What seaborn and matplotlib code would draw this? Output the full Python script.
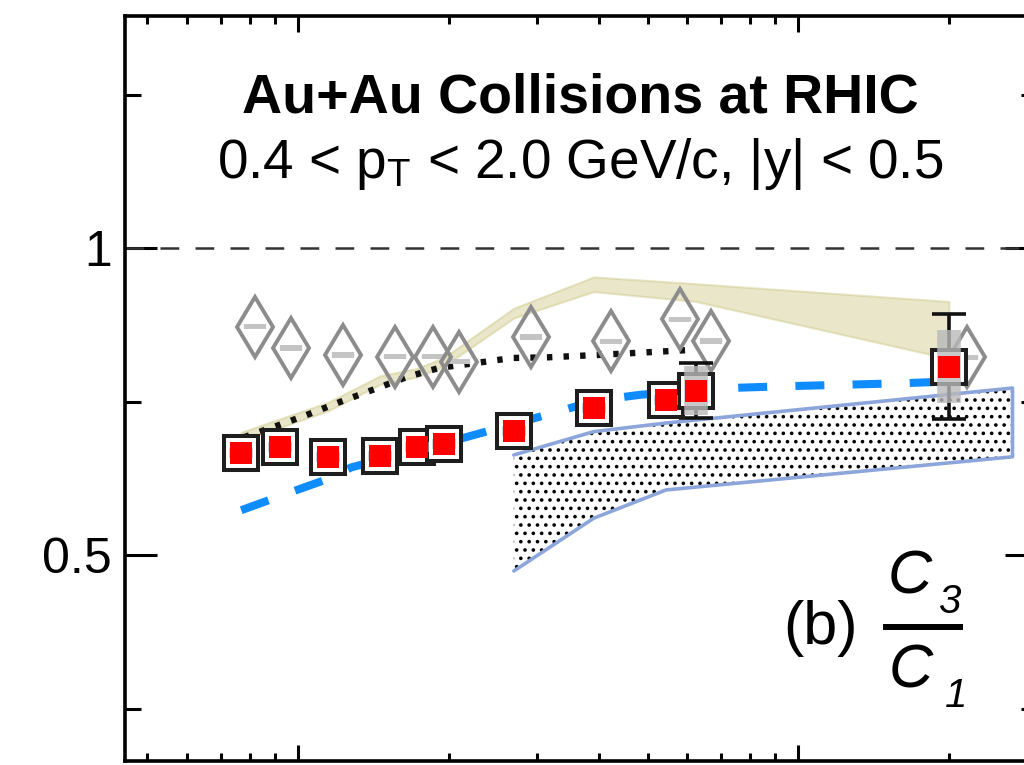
import numpy as np
import matplotlib
matplotlib.use('Agg')
import matplotlib.pyplot as plt
from matplotlib.ticker import MultipleLocator, LogLocator, NullFormatter
import seaborn as sns

# Data
# STAR C3/C1 (red squares)
star_energy = [7.7, 9.2, 11.5, 14.6, 17.3, 19.6, 27, 39, 54.4, 62.4, 200]
star_ratio = [0.666, 0.676, 0.660, 0.661, 0.676, 0.681, 0.702, 0.739, 0.752, 0.768, 0.807]
star_stat = [0, 0, 0, 0, 0, 0, 0, 0, 0, 0.044, 0.085]
star_sys = [0.008, 0.008, 0.008, 0.008, 0.008, 0.008, 0.008, 0.008, 0.008, 0.040, 0.060]

# gray open diamonds
ref_energy = [8.2, 9.7, 12.3, 15.6, 18.6, 21.0, 29.2, 42.3, 57.9, 67.0, 217.5]
ref_ratio = [0.872, 0.837, 0.826, 0.823, 0.823, 0.815, 0.855, 0.848, 0.884, 0.849, 0.822]
ref_sys = [0.0045] * 11

# olive band
band_energy = [7.7, 11.5, 14.6, 17.3, 19.6, 27, 39, 62.4, 200]
band_low = [0.686, 0.735, 0.778, 0.790, 0.808, 0.886, 0.929, 0.913, 0.820]
band_high = [0.700, 0.749, 0.792, 0.804, 0.822, 0.902, 0.953, 0.942, 0.913]

# dotted (hatched) band
hatch_energy = [27, 39, 54.4, 268]
hatch_low = [0.474, 0.560, 0.606, 0.660]
hatch_high = [0.663, 0.701, 0.715, 0.772]

# black dotted curve
dot_energy = [7.8, 8.9, 10.4, 12.1, 14.1, 16.5, 19.2, 22.8, 26.8, 31.5, 40, 60.7]
dot_ratio = [0.692, 0.708, 0.728, 0.749, 0.769, 0.790, 0.805, 0.813, 0.821, 0.822, 0.826, 0.834]

# blue dashed curve
dash_energy = [7.7, 9.95, 11.3, 12.8, 18.4, 24.5, 31.9, 39.6, 48.3, 72.1, 95, 164, 204]
dash_ratio = [0.573, 0.606, 0.622, 0.643, 0.676, 0.704, 0.730, 0.752, 0.761, 0.772, 0.775, 0.780, 0.783]

sns.set_theme(style='ticks')
plt.rcParams['font.family'] = ['Liberation Sans', 'DejaVu Sans']
plt.rcParams['mathtext.fontset'] = 'custom'
plt.rcParams['mathtext.rm'] = 'Liberation Sans'
plt.rcParams['mathtext.it'] = 'Liberation Sans:italic'
plt.rcParams['mathtext.bf'] = 'Liberation Sans:bold'
plt.rcParams['text.color'] = 'black'
plt.rcParams['xtick.color'] = 'black'
plt.rcParams['ytick.color'] = 'black'
plt.rcParams['hatch.linewidth'] = 1.4

fig = plt.figure(figsize=(10.24, 7.65), dpi=100)
ax = fig.add_axes([0.1216, 0.0052, 0.8911, 0.9739])
ax.set_xscale('log')
ax.set_xlim(4.5, 300)
ax.set_ylim(0.1645, 1.378)

# reference line
ax.axhline(1.0, color='#333333', lw=1.8, dashes=(7.5, 6.5), zorder=1)

# olive band
ax.fill_between(band_energy, band_low, band_high, color='#c9c27a', alpha=0.4,
                edgecolor='#c9c27a', lw=1.5, zorder=2)

# hatched band + blue outline (no left edge)
ax.fill_between(hatch_energy, hatch_low, hatch_high, facecolor='none',
                edgecolor='black', hatch='..', lw=0, zorder=2)
outline_x = hatch_energy + hatch_energy[::-1]
outline_y = hatch_high + hatch_low[::-1]
ax.plot(outline_x, outline_y, color='#8ca6dc', lw=2.6, zorder=3)

# model curves
sns.lineplot(x=dash_energy, y=dash_ratio, ax=ax, color='#0f8cff', lw=5.8,
             sort=False, zorder=4)
ax.lines[-1].set_dashes((3.6, 3.5))
ax.lines[-1].set_dash_capstyle('butt')
sns.lineplot(x=dot_energy, y=dot_ratio, ax=ax, color='#111111', lw=4.6,
             sort=False, zorder=4)
ax.lines[-1].set_dashes((0.85, 1.75))
ax.lines[-1].set_dash_capstyle('butt')

# gray diamonds with small sys bars
ax.errorbar(ref_energy, ref_ratio, yerr=ref_sys, fmt='none', ecolor='#c4c4c4',
            elinewidth=16, zorder=5)
ax.plot(ref_energy, ref_ratio, ls='none', marker='d', ms=31, mfc='none',
        mec='#8c8c8c', mew=2.8, zorder=5)

# stat error bars
err_idx = [i for i, e in enumerate(star_stat) if e > 0]
ax.errorbar([star_energy[i] for i in err_idx], [star_ratio[i] for i in err_idx],
            yerr=[star_stat[i] for i in err_idx], fmt='none', ecolor='#111111',
            elinewidth=2.6, capsize=12, capthick=2.6, zorder=6)

# STAR squares
ax.plot(star_energy, star_ratio, ls='none', marker='s', ms=23.8, mfc='white',
        mec='#1e1e1e', mew=2.9, zorder=7)
ax.errorbar(star_energy, star_ratio, yerr=star_sys, fmt='none', ecolor='#b9b9b9',
            elinewidth=17, alpha=0.8, zorder=8)
ax.plot(star_energy, star_ratio, ls='none', marker='s', ms=15.8, mfc='#ff0000',
        mec='#ff0000', mew=0, zorder=9)

# axes styling
for side in ['left', 'right', 'top', 'bottom']:
    ax.spines[side].set_linewidth(2.6)
    ax.spines[side].set_color('black')
    ax.spines[side].set_visible(True)
ax.xaxis.set_major_locator(LogLocator(base=10, numticks=10))
ax.xaxis.set_minor_locator(LogLocator(base=10, subs=np.arange(2, 10), numticks=20))
ax.xaxis.set_minor_formatter(NullFormatter())
ax.set_xticklabels([])
ax.yaxis.set_minor_locator(MultipleLocator(0.25))
ax.set_yticks([0.5, 1.0])
ax.set_yticklabels(['0.5', '1'])
ax.tick_params(axis='both', which='both', direction='in', top=True, right=True,
               width=2.2, color='black')
ax.tick_params(axis='y', which='major', length=23, labelsize=36, pad=9)
ax.tick_params(axis='y', which='minor', length=11.5)
ax.tick_params(axis='x', which='major', length=11.5, labelbottom=False)
ax.tick_params(axis='x', which='minor', length=5.8)
ax.grid(False)

# texts
ax.text(0.499, 0.870, 'Au+Au Collisions at RHIC', transform=ax.transAxes,
        ha='center', va='baseline', fontsize=40, fontweight='bold')
ax.text(0.499, 0.7826, r'0.4 < $\mathrm{p}_\mathrm{T}$ < 2.0 GeV/c, |y| < 0.5',
        transform=ax.transAxes, ha='center', va='baseline', fontsize=39.5)
ax.text(0.763, 0.1785, '(b)', transform=ax.transAxes, ha='center',
        va='center', fontsize=44)

# fraction C3 / C1
ax.text(0.8608, 0.2255, 'C', transform=ax.transAxes, ha='center',
        va='baseline', fontsize=44, fontstyle='italic')
ax.text(0.8915, 0.1987, '3', transform=ax.transAxes, ha='left',
        va='baseline', fontsize=29, fontstyle='italic')
ax.plot([0.8312, 0.9189], [0.1799, 0.1799], transform=ax.transAxes,
        color='black', lw=4.3, solid_capstyle='butt')
ax.text(0.8619, 0.0993, 'C', transform=ax.transAxes, ha='center',
        va='baseline', fontsize=44, fontstyle='italic')
ax.text(0.899, 0.0725, '1', transform=ax.transAxes, ha='left',
        va='baseline', fontsize=29, fontstyle='italic')

fig.savefig('out.png', dpi=100)
